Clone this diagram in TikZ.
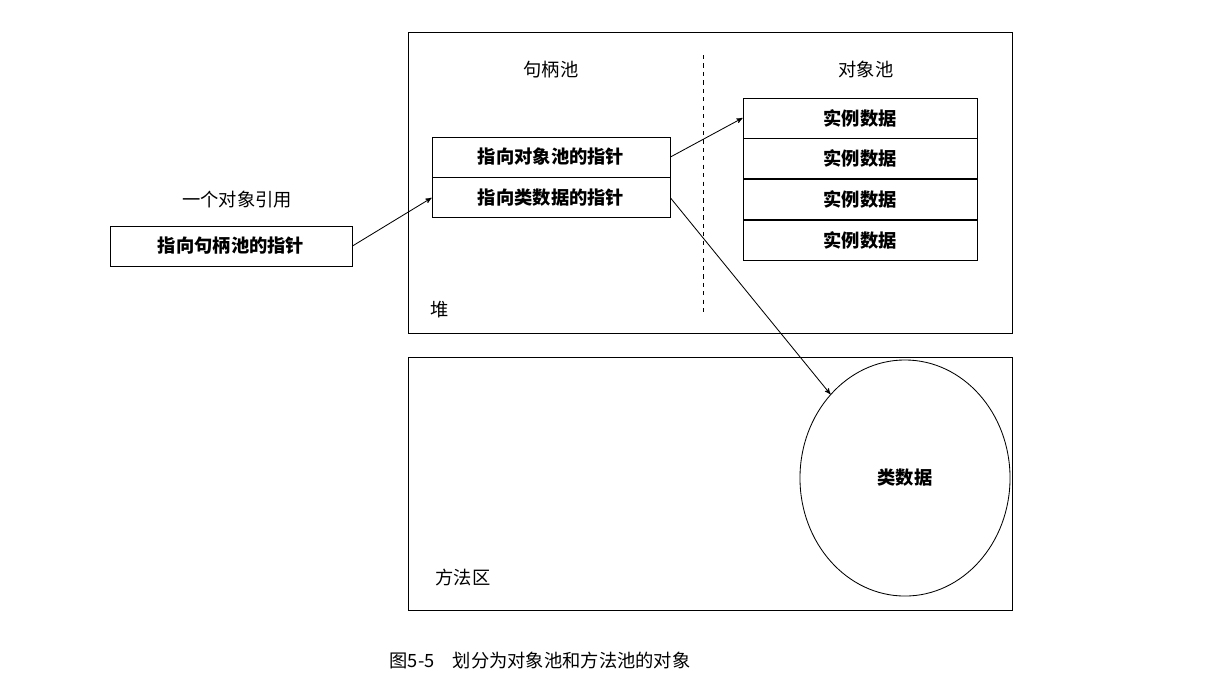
\documentclass[tikz,border=0pt]{standalone}
\usepackage{fontspec}
\setmainfont{Noto Sans CJK SC}
\usetikzlibrary{arrows}
\usetikzlibrary{positioning}
\usetikzlibrary{shapes.geometric}

\begin{document}
\begin{tikzpicture}[
  x=0.025cm,y=-0.025cm,
  font=\fontsize{13}{15}\selectfont,
  area/.style={draw,semithick},
  cell/.style={draw,semithick,minimum height=1cm,inner sep=0pt,font=\fontsize{13}{15}\selectfont\bfseries},
  handle/.style={cell,minimum width=5.95cm},
  inst/.style={cell,minimum width=5.85cm},
  to/.style={->,>=stealth',semithick}]

  \useasboundingbox (0,0) rectangle (1208,686);

  % heap and method area
  \draw[area] (408,32) rectangle (1012,333);
  \draw[area] (408,357) rectangle (1012,610);
  \coordinate (dtop) at (703,55);
  \coordinate (dbot) at (703,312);
  \draw[dashed,semithick] (dtop) -- (dbot);
  \node (heap) at (440,310) {堆};
  \node (method) at (463,578) {方法区};
  \node (hpool) at (551,70) {句柄池};
  \node (opool) at (866,70) {对象池};

  % handle pool
  \node[handle] (toobj) at (551,157) {指向对象池的指针};
  \node[handle,below=0pt of toobj] (tocls) {指向类数据的指针};

  % object pool
  \node[inst] (i1) at (860,118) {实例数据};
  \node[inst,below=0pt of i1] (i2) {实例数据};
  \node[inst,below=0pt of i2] (i3) {实例数据};
  \node[inst,below=0pt of i3] (i4) {实例数据};

  % class data
  \node[draw,semithick,ellipse,minimum width=5.25cm,minimum height=5.9cm,font=\fontsize{13}{15}\selectfont\bfseries] (cls) at (905,478) {类数据};

  % reference
  \node (reflabel) at (237,200) {一个对象引用};
  \node[cell,minimum width=6.05cm] (ref) at (231,246) {指向句柄池的指针};

  \draw[to] (ref.east) -- (tocls.west);
  \draw[to] (toobj.east) -- (i1.west);
  \draw[to] (tocls.east) -- (cls.north west);

  \node (caption) at (540,661) {图5-5\quad 划分为对象池和方法池的对象};
\end{tikzpicture}
\end{document}
